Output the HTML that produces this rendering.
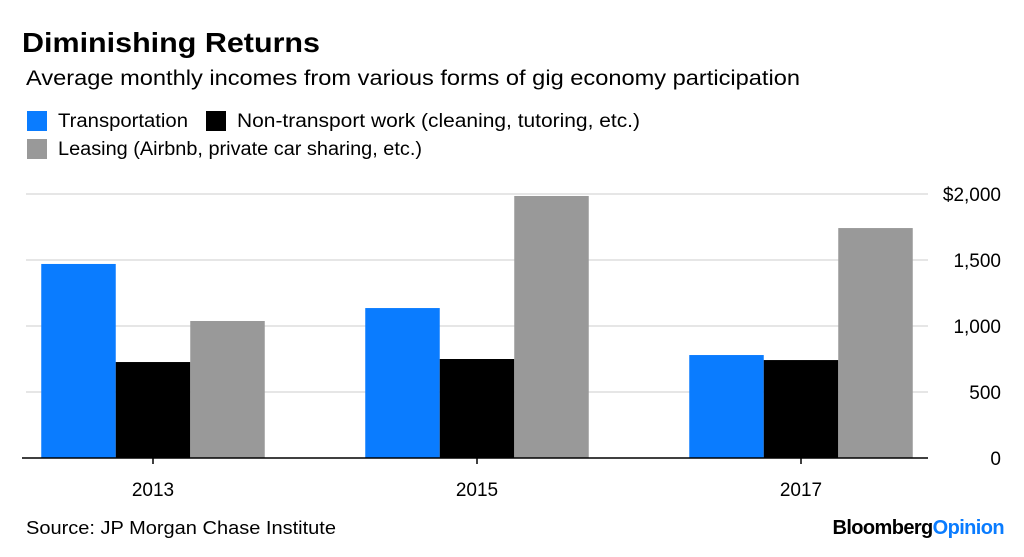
<!DOCTYPE html>
<html><head><meta charset="utf-8"><style>
body{margin:0;width:1024px;height:552px;background:#fff;font-family:"Liberation Sans",sans-serif;overflow:hidden}
</style></head><body>
<svg width="1024" height="552" xmlns="http://www.w3.org/2000/svg">
<text x="22" y="52" font-size="28" font-weight="bold" fill="#000" textLength="298" lengthAdjust="spacingAndGlyphs">Diminishing Returns</text>
<text x="26" y="85" font-size="21" fill="#000" textLength="774" lengthAdjust="spacingAndGlyphs">Average monthly incomes from various forms of gig economy participation</text>
<g>
<rect x="27" y="111" width="20" height="20" fill="#0a7cff"/>
<text x="58" y="127" font-size="19" textLength="130" lengthAdjust="spacingAndGlyphs">Transportation</text>
<rect x="206" y="111" width="20" height="20" fill="#000"/>
<text x="237" y="127" font-size="19" textLength="403" lengthAdjust="spacingAndGlyphs">Non-transport work (cleaning, tutoring, etc.)</text>
<rect x="27" y="139" width="20" height="20" fill="#999"/>
<text x="58" y="155" font-size="19" textLength="364" lengthAdjust="spacingAndGlyphs">Leasing (Airbnb, private car sharing, etc.)</text>
</g>
<g id="plot"></g>
<text x="26" y="534" font-size="18" textLength="310" lengthAdjust="spacingAndGlyphs">Source: JP Morgan Chase Institute</text>
<text x="1004" y="534" font-size="20" font-weight="bold" text-anchor="end" letter-spacing="-0.6">Bloomberg<tspan fill="#0a7cff">Opinion</tspan></text>
</svg>
<script>
const categories=["2013","2015","2017"];
const transportation=[1470,1136,780];
const nonTransport=[727,750,742];
const leasing=[1038,1985,1742];
const yTicks=[0,500,1000,1500,2000];
const yTickLabels=["0","500","1,000","1,500","$2,000"];
const NS="http://www.w3.org/2000/svg";
const g=document.getElementById('plot');
const y0=458,yMax=2000,yTop=194;
function y(v){return y0-(v/yMax)*(y0-yTop);}
function xc(i){return 153+324*i;}
function mk(t,a){const e=document.createElementNS(NS,t);for(const k in a)e.setAttribute(k,a[k]);g.appendChild(e);return e;}
yTicks.forEach((v,i)=>{
 if(v>0){const l=mk('line',{x1:26,x2:928,y1:y(v),y2:y(v),stroke:'#e6e6e6','stroke-width':2});
 
 }
 const t=mk('text',{x:1001,y:y(v)+7,'font-size':19,'text-anchor':'end'});t.textContent=yTickLabels[i];
 
 
});
const series=[[transportation,'#0a7cff','transportation'],[nonTransport,'#000','non-transport'],[leasing,'#999','leasing']];
const bw=74.5;
categories.forEach((c,i)=>{
 series.forEach((s,j)=>{
  const v=s[0][i];
  const r=mk('rect',{x:xc(i)-1.5*bw+j*bw,y:y(v),width:bw,height:y0-y(v),fill:s[1]});
  
  
 });
 const tk=mk('line',{x1:xc(i),x2:xc(i),y1:y0,y2:y0+6,stroke:'#000','stroke-width':1.5});
 
 
 const t=mk('text',{x:xc(i),y:496,'font-size':19,'text-anchor':'middle'});t.textContent=c;
 
 
});
const base=mk('line',{x1:22,x2:928,y1:y0,y2:y0,stroke:'#000','stroke-width':1.5});


</script>
</body></html>
